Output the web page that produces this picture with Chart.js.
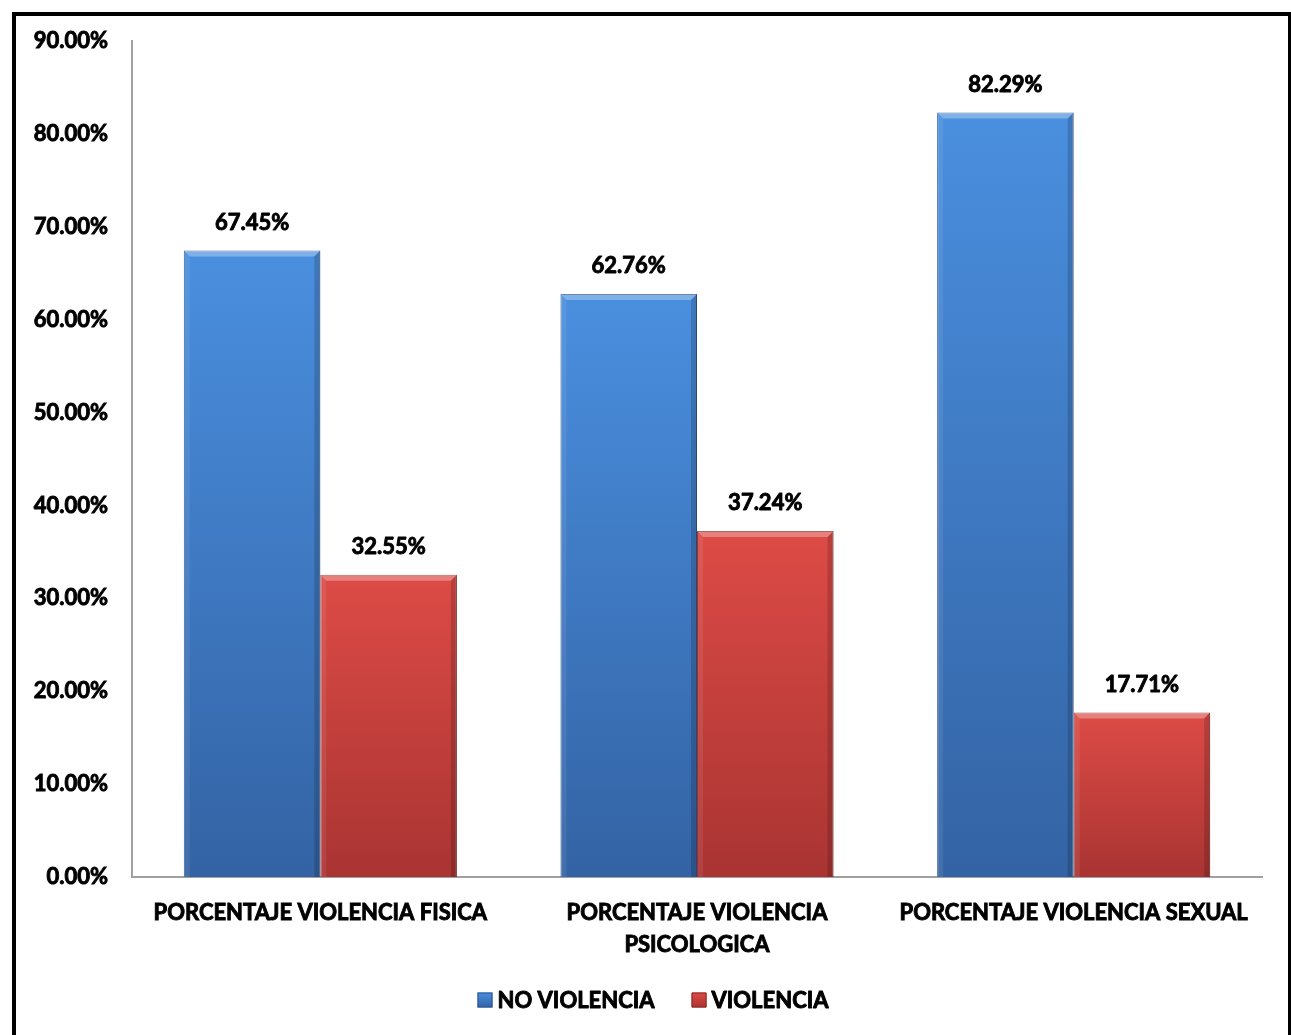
<!DOCTYPE html>
<html>
<head>
<meta charset="utf-8">
<script src="https://cdn.jsdelivr.net/npm/chart.js@4/dist/chart.umd.min.js"></script>
<style>
  html, body { margin: 0; padding: 0; background: #fff; }
  #wrap { position: absolute; left: 0; top: 0; width: 1291px; height: 1035px; }
  #frame { position: absolute; left: 12px; top: 12px; width: 1272px; height: 1040px;
           border-left: 4px solid #000; border-top: 4px solid #000; border-right: 3px solid #000; pointer-events: none; }
</style>
</head>
<body>
<div id="wrap"><canvas id="c" width="1291" height="1035"></canvas></div>
<div id="frame"></div>
<script>
const categories = [["PORCENTAJE VIOLENCIA FISICA"], ["PORCENTAJE VIOLENCIA", "PSICOLOGICA"], ["PORCENTAJE VIOLENCIA SEXUAL"]];
const seriesNames = ["NO VIOLENCIA", "VIOLENCIA"];
const noViolencia = [67.45, 62.76, 82.29];
const violencia = [32.55, 37.24, 17.71];
const yMax = 90;
const yStep = 10;

const FONT = "Lato, 'Open Sans', sans-serif";
const W = 'bold';
const STROKE = 0.9;

const colors = [
  { top: '#4a8fdf', bottom: '#3363a4', edge: '#2a5590' },
  { top: '#dd4b46', bottom: '#a93432', edge: '#8a2624' }
];

function barGrad(ctx, k) {
  const chart = ctx.chart;
  if (!chart.chartArea || ctx.type !== 'data') return colors[k].top;
  const y = chart.scales.y;
  const v = ctx.raw;
  const yTop = y.getPixelForValue(v), yBot = y.getPixelForValue(0);
  const g = chart.ctx.createLinearGradient(0, yTop, 0, yBot);
  g.addColorStop(0, colors[k].top);
  g.addColorStop(1, colors[k].bottom);
  return g;
}

function boldText(c, t, x, y) {
  c.lineWidth = STROKE;
  c.strokeStyle = "#000";
  c.lineJoin = "round";
  c.strokeText(t, x, y);
  c.fillText(t, x, y);
}

const labelPlugin = {
  id: 'valueLabels',
  afterDatasetsDraw(chart) {
    const c = chart.ctx;
    c.save();
    c.font = W + " 22px " + FONT;
    c.fillStyle = "#000";
    c.textAlign = "center";
    c.textBaseline = "middle";
    chart.data.datasets.forEach((ds, i) => {
      const meta = chart.getDatasetMeta(i);
      meta.data.forEach((bar, j) => {
        boldText(c, ds.data[j].toFixed(2) + "%", bar.x, bar.y - 28);
      });
    });
    c.restore();
  }
};

const bevelPlugin = {
  id: 'bevel',
  afterDatasetsDraw(chart) {
    const c = chart.ctx;
    c.save();
    chart.data.datasets.forEach((ds, i) => {
      const meta = chart.getDatasetMeta(i);
      meta.data.forEach((bar) => {
        const w = bar.width, x0 = bar.x - w / 2, x1 = bar.x + w / 2, y0 = bar.y, y1 = bar.base;
        const b = 6;
        c.fillStyle = "rgba(255,255,255,0.30)";
        c.beginPath(); c.moveTo(x0, y0); c.lineTo(x1, y0); c.lineTo(x1 - b, y0 + b); c.lineTo(x0 + b, y0 + b); c.closePath(); c.fill();
        c.fillStyle = "rgba(0,0,0,0.16)";
        c.beginPath(); c.moveTo(x1, y0); c.lineTo(x1, y1); c.lineTo(x1 - b, y1); c.lineTo(x1 - b, y0 + b); c.closePath(); c.fill();
        c.fillStyle = "rgba(255,255,255,0.08)";
        c.beginPath(); c.moveTo(x0, y0); c.lineTo(x0 + b, y0 + b); c.lineTo(x0 + b, y1); c.lineTo(x0, y1); c.closePath(); c.fill();
      });
    });
    c.restore();
  }
};

const legendPlugin = {
  id: 'customLegend',
  afterDraw(chart) {
    const c = chart.ctx;
    c.save();
    c.font = W + " 22px " + FONT;
    c.textBaseline = "middle";
    c.textAlign = "left";
    const box = 15, gap = 5, itemGap = 37;
    const items = chart.data.datasets.map((ds) => ds.label);
    let total = 0;
    items.forEach((t, i) => { total += box + gap + c.measureText(t).width + (i ? itemGap : 0); });
    let x = 653 - total / 2;
    const y = 1000;
    items.forEach((t, i) => {
      if (i) x += itemGap;
      const g = c.createLinearGradient(0, y - box / 2, 0, y + box / 2);
      g.addColorStop(0, colors[i].top); g.addColorStop(1, colors[i].bottom);
      c.fillStyle = g;
      c.fillRect(x, y - box / 2, box, box);
      c.strokeStyle = colors[i].edge; c.lineWidth = 1;
      c.strokeRect(x + 0.5, y - box / 2 + 0.5, box - 1, box - 1);
      x += box + gap;
      c.fillStyle = "#000";
      boldText(c, t, x, y + 1);
      x += c.measureText(t).width;
    });
    c.restore();
  }
};

new Chart(document.getElementById('c'), {
  type: 'bar',
  data: {
    labels: categories,
    datasets: [
      { label: seriesNames[0], data: noViolencia,
        backgroundColor: (ctx) => barGrad(ctx, 0),
        borderColor: colors[0].edge, borderWidth: 1 },
      { label: seriesNames[1], data: violencia,
        backgroundColor: (ctx) => barGrad(ctx, 1),
        borderColor: colors[1].edge, borderWidth: 1 }
    ]
  },
  options: {
    responsive: false,
    animation: false,
    maintainAspectRatio: false,
    layout: { padding: { left: 0, right: 29, top: 41, bottom: 58 } },
    datasets: { bar: { categoryPercentage: 0.725, barPercentage: 1.0 } },
    scales: {
      x: {
        grid: { display: false, drawTicks: false },
        border: { display: true, color: '#a0a0a0', width: 2 },
        ticks: { color: '#000', font: { family: FONT, weight: W, size: 22, lineHeight: 1.45 }, padding: 20,
                 maxRotation: 0, autoSkip: false, textStrokeColor: '#000', textStrokeWidth: STROKE },
        afterFit(s) { s.height = 100; }
      },
      y: {
        min: 0, max: yMax,
        grid: { display: false, drawTicks: false },
        border: { display: true, color: '#a0a0a0', width: 2 },
        ticks: { stepSize: yStep, color: '#000', padding: 24,
                 font: { family: FONT, weight: W, size: 22 },
                 textStrokeColor: '#000', textStrokeWidth: STROKE,
                 callback: (v) => v.toFixed(2) + "%" },
        afterFit(s) { s.width = 132; }
      }
    },
    plugins: {
      legend: { display: false },
      tooltip: { enabled: false }
    }
  },
  plugins: [bevelPlugin, labelPlugin, legendPlugin]
});
</script>
</body>
</html>
